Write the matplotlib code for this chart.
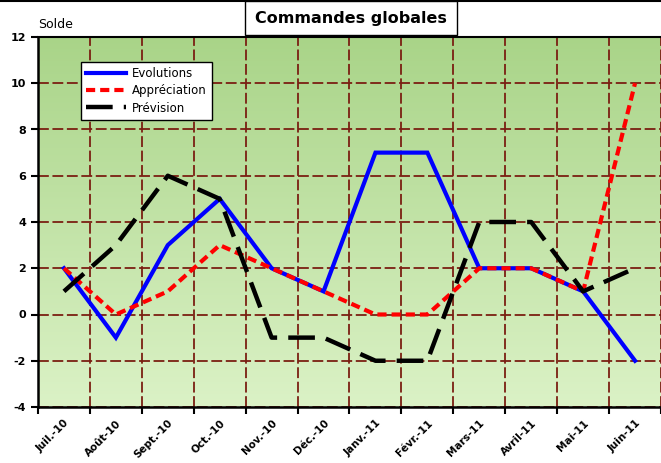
import numpy as np
import matplotlib
matplotlib.use('Agg')
import matplotlib.pyplot as plt
from matplotlib.colors import LinearSegmentedColormap

# Data
mois = ['Juil.-10', 'Août-10', 'Sept.-10', 'Oct.-10', 'Nov.-10', 'Déc.-10',
        'Janv.-11', 'Févr.-11', 'Mars-11', 'Avril-11', 'Mai-11', 'Juin-11']
evolutions = [2, -1, 3, 5, 2, 1, 7, 7, 2, 2, 1, -2]
appreciation = [2, 0, 1, 3, 2, 1, 0, 0, 2, 2, 1, 10]
prevision = [1, 3, 6, 5, -1, -1, -2, -2, 4, 4, 1, 2]
y_ticks = [-4, -2, 0, 2, 4, 6, 8, 10, 12]

fig = plt.figure(figsize=(6.61, 4.63), dpi=100)
ax = fig.add_axes([38 / 661, 56 / 463, 1 - 38 / 661, 370 / 463])

x = np.arange(len(mois))

# gradient background (dark green at top, light at bottom)
cmap = LinearSegmentedColormap.from_list('bg', ['#dbf2c6', '#a9d488'])
grad = np.linspace(0, 1, 256).reshape(-1, 1)
ax.imshow(grad, aspect='auto', cmap=cmap, origin='lower',
          extent=[-0.5, len(mois) - 0.5, y_ticks[0], y_ticks[-1]], zorder=0)

# same drawing order as the original: blue, then red, then black on top
ax.plot(x, evolutions, color='#0000ff', lw=3, solid_joinstyle='miter',
        label='Evolutions', zorder=2)
ax.plot(x, appreciation, color='#ff0000', lw=3, dashes=(2.2, 1.2),
        label='Appréciation', zorder=3)
ax.plot(x, prevision, color='black', lw=3.2, dashes=(6, 2.5),
        label='Prévision', zorder=4)

ax.set_xlim(-0.5, len(mois) - 0.5)
ax.set_ylim(y_ticks[0], y_ticks[-1])

# grid at category boundaries / each y tick
ax.set_xticks(np.arange(-0.5, len(mois)), minor=False)
ax.set_xticklabels([])
ax.set_xticks(x, minor=True)
ax.set_xticklabels(mois, minor=True, rotation=45, ha='right', va='top',
                   rotation_mode='anchor', fontsize=7.5, fontweight='bold')
ax.tick_params(axis='x', which='major', length=5, width=1.5, direction='out')
ax.tick_params(axis='x', which='minor', length=0, pad=8)
ax.set_yticks(y_ticks)
ax.set_yticklabels([str(v) for v in y_ticks], fontsize=8, fontweight='bold')
ax.tick_params(axis='y', length=5, width=1.5, direction='out')

ax.grid(True, which='major', color='#7a1f12', lw=1.3, ls=(0, (6, 2)))
for gl in ax.get_xgridlines() + ax.get_ygridlines():
    gl.set_zorder(1)

ax.spines['left'].set_linewidth(1.8)
ax.spines['bottom'].set_linewidth(1.8)
ax.spines['top'].set_linewidth(1.5)
ax.spines['right'].set_visible(False)

fig.text(38 / 661, 1 - 25 / 463, 'Solde', fontsize=9, ha='left', va='center')
fig.text(351 / 661, 1 - 18 / 463, 'Commandes globales', fontsize=11.5,
         fontweight='bold', ha='center', va='center',
         bbox=dict(boxstyle='square,pad=0.6', fc='white', ec='black', lw=1))

leg = ax.legend(loc='upper left', bbox_to_anchor=(43 / 623, 345 / 370),
                borderaxespad=0, fontsize=8.5, frameon=True, fancybox=False,
                handlelength=3.4, borderpad=0.45, labelspacing=0.35,
                handletextpad=0.45)
leg.get_frame().set_edgecolor('black')
leg.get_frame().set_linewidth(1)
leg.get_frame().set_alpha(1)
leg.set_zorder(6)

# outer chart border at top
fig.add_artist(plt.Line2D([0, 1], [0.998, 0.998], color='black', lw=1.5))

fig.savefig('out.png', dpi=100)
